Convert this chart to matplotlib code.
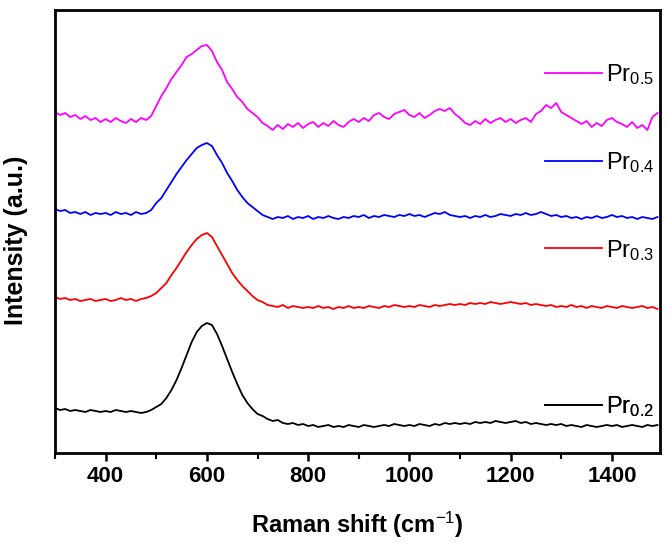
import numpy as np
import matplotlib
matplotlib.use("Agg")
import matplotlib.pyplot as plt
from matplotlib.lines import Line2D

plt.rcParams['font.family'] = ['Liberation Sans', 'DejaVu Sans']
plt.rcParams['mathtext.fontset'] = 'custom'
plt.rcParams['mathtext.rm'] = 'Liberation Sans'
plt.rcParams['mathtext.it'] = 'Liberation Sans:italic'
plt.rcParams['mathtext.bf'] = 'Liberation Sans:bold'

# Raman shift, 300..1490 cm-1 step 10
shift = np.arange(300, 1500, 10)

# intensities (a.u., stacked offsets as in the figure)
pr05 = [348, 345, 347, 343, 345, 341, 344, 340, 342, 338,
        341, 338, 342, 339, 337, 341, 338, 342, 340, 344,
        354, 364, 372, 381, 388, 395, 403, 406, 410, 414,
        415, 409, 398, 390, 378, 371, 363, 358, 351, 347,
        343, 337, 334, 330, 335, 331, 336, 333, 337, 332,
        336, 338, 333, 337, 334, 339, 335, 333, 338, 341,
        338, 342, 339, 345, 347, 343, 341, 346, 348, 350,
        345, 343, 347, 342, 345, 349, 351, 349, 352, 346,
        342, 337, 335, 339, 336, 341, 337, 340, 342, 338,
        341, 337, 340, 342, 338, 346, 349, 355, 352, 357,
        348, 345, 342, 339, 336, 339, 333, 337, 334, 340,
        342, 338, 336, 333, 338, 332, 335, 330, 343, 347]

pr04 = [251, 249, 250, 247, 248, 246, 248, 245, 247, 246,
        247, 245, 248, 246, 247, 245, 248, 246, 247, 250,
        257, 262, 270, 278, 286, 293, 300, 306, 312, 315,
        317, 314, 305, 297, 287, 279, 270, 263, 257, 253,
        249, 245, 243, 241, 243, 242, 244, 241, 243, 242,
        244, 241, 243, 242, 244, 242, 241, 243, 242, 244,
        243, 245, 242, 244, 243, 245, 244, 243, 245, 244,
        246, 244, 245, 243, 245, 247, 246, 248, 245, 244,
        243, 244, 242, 244, 243, 245, 243, 244, 246, 245,
        244, 246, 245, 247, 245, 246, 248, 246, 244, 245,
        243, 244, 242, 243, 241, 243, 242, 244, 242, 243,
        245, 243, 244, 242, 243, 241, 243, 242, 241, 243]

pr03 = [163, 161, 162, 160, 161, 159, 160, 161, 159, 160,
        161, 159, 160, 162, 160, 161, 159, 161, 162, 164,
        167, 172, 177, 185, 192, 200, 208, 215, 221, 225,
        227, 223, 214, 205, 196, 187, 180, 174, 169, 164,
        160, 158, 155, 154, 153, 155, 152, 154, 153, 152,
        153, 152, 154, 152, 153, 151, 153, 152, 154, 152,
        153, 152, 154, 153, 152, 154, 153, 155, 154, 153,
        154, 153, 155, 154, 153, 155, 154, 155, 156, 155,
        156, 155, 157, 156, 157, 156, 158, 157, 156, 157,
        158, 157, 156, 157, 155, 156, 155, 154, 155, 153,
        154, 153, 155, 153, 154, 152, 154, 153, 152, 154,
        153, 152, 154, 153, 152, 153, 154, 152, 153, 151]

pr02 = [52, 50, 51, 49, 50, 49, 48, 50, 49, 48,
        49, 48, 50, 49, 48, 49, 48, 47, 48, 50,
        53, 56, 62, 70, 80, 92, 105, 118, 128, 134,
        137, 135, 126, 114, 101, 88, 76, 65, 57, 51,
        46, 44, 41, 39, 40, 37, 36, 37, 35, 36,
        34, 35, 33, 34, 35, 33, 34, 33, 35, 34,
        33, 35, 34, 33, 34, 35, 34, 36, 35, 34,
        35, 34, 36, 35, 34, 36, 35, 37, 36, 37,
        36, 37, 36, 38, 37, 38, 37, 39, 38, 37,
        38, 39, 37, 38, 36, 37, 36, 35, 36, 35,
        36, 34, 35, 34, 33, 35, 34, 33, 34, 35,
        34, 35, 33, 34, 35, 34, 33, 35, 34, 35]

series = [pr05, pr04, pr03, pr02]
labels = ['Pr$_{0.5}$', 'Pr$_{0.4}$', 'Pr$_{0.3}$', 'Pr$_{0.2}$']
colors = ['#ff00ff', '#0000ff', '#ff0000', '#000000']
key_y = [0.855, 0.655, 0.458, 0.104]   # legend key positions (axes fraction)

fig = plt.figure(figsize=(6.68, 5.46), dpi=100)
ax = fig.add_axes([55/668, 93/546, 605/668, 443/546])

for ys, lab, c, ky in zip(series, labels, colors, key_y):
    ax.plot(shift, ys, color=c, lw=1.3)
    leg = ax.legend(handles=[Line2D([], [], color=c, lw=1.3)], labels=[lab],
                    loc='center left', bbox_to_anchor=(0.81, ky), frameon=False,
                    fontsize=17, handlelength=2.4, handletextpad=0.2,
                    borderpad=0, borderaxespad=0)
    ax.add_artist(leg)

ax.set_xlim(300, 1495)
ax.set_ylim(7, 450)
ax.set_xticks([400, 600, 800, 1000, 1200, 1400])
ax.set_xticks(np.arange(300, 1500, 100), minor=True)
ax.set_yticks([])
ax.tick_params(axis='x', which='major', direction='out', length=6, width=1.8, labelsize=16, pad=3)
ax.tick_params(axis='x', which='minor', direction='out', length=4, width=1.5)
for lbl in ax.get_xticklabels():
    lbl.set_fontweight('bold')
for s in ax.spines.values():
    s.set_linewidth(2)

ax.set_xlabel('Raman shift (cm$^{-1}$)', fontsize=17, fontweight='bold', labelpad=17)
ax.set_ylabel('Intensity (a.u.)', fontsize=18, fontweight='bold')
ax.yaxis.set_label_coords(-0.045, 0.48)

fig.savefig('out.png', dpi=100)
